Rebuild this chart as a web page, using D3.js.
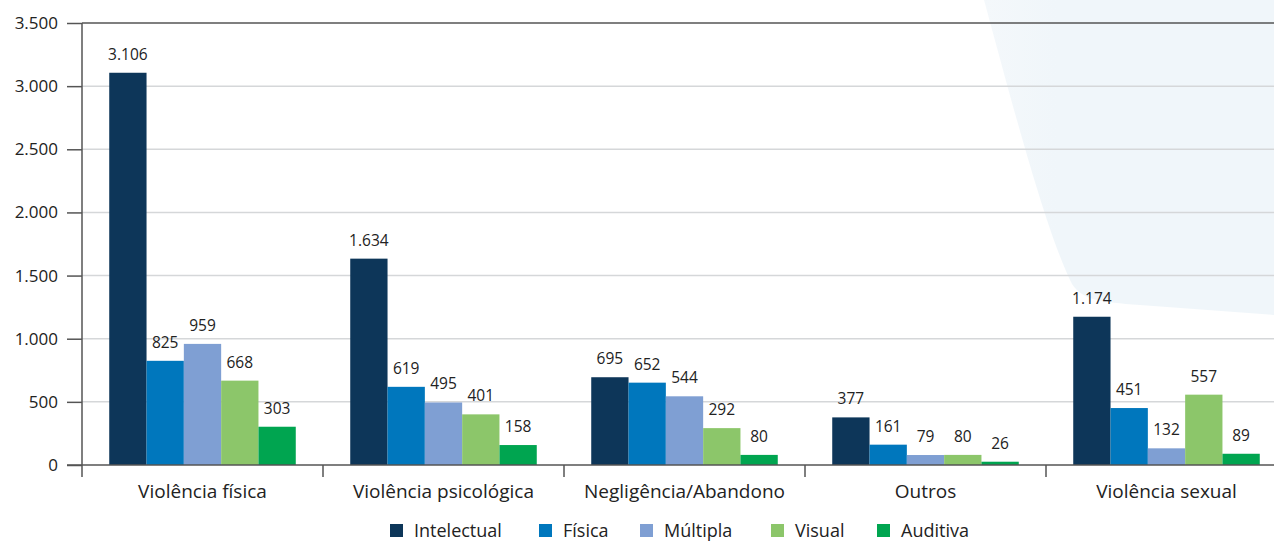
<!DOCTYPE html>
<html><head><meta charset="utf-8">
<script src="https://cdn.jsdelivr.net/npm/d3@7"></script>
<style>body{margin:0;background:#fff}svg{display:block}text{font-family:"Open Sans",sans-serif;fill:#222}</style>
</head><body><div id="chart"></div>
<script>
const categories = ["Violência física","Violência psicológica","Negligência/Abandono","Outros","Violência sexual"];
const seriesNames = ["Intelectual","Física","Múltipla","Visual","Auditiva"];
const intelectual = [3106,1634,695,377,1174];
const fisica = [825,619,652,161,451];
const multipla = [959,495,544,79,132];
const visual = [668,401,292,80,557];
const auditiva = [303,158,80,26,89];
const yTicks = [0,500,1000,1500,2000,2500,3000,3500];
const colors = ["#0d3659","#0077bd","#7f9fd3","#8cc66a","#00a550"];
const seriesValues = [intelectual,fisica,multipla,visual,auditiva];

(function(){
const W=1274,H=541;
const mLeft=82, mBottom=465, mTop=23, groupW=241;
const loc = d3.formatLocale({decimal:",",thousands:".",grouping:[3],currency:["R$",""]});
const fmt = loc.format(",d");

const svg=d3.select("#chart").append("svg").attr("width",W).attr("height",H);

// background decoration
const defs=svg.append("defs");
const g0=defs.append("linearGradient").attr("id","bg").attr("x1","0").attr("x2","1").attr("y1","0").attr("y2","0");
g0.append("stop").attr("offset","0").attr("stop-color","#f4f8fb");
g0.append("stop").attr("offset","0.25").attr("stop-color","#f0f6fa");
g0.append("stop").attr("offset","1").attr("stop-color","#f0f6fa");
const p=d3.path();
p.moveTo(984,0);
p.bezierCurveTo(1010,95,1045,230,1072,284);
p.bezierCurveTo(1082,300,1100,302,1140,305);
p.lineTo(1274,315);
p.lineTo(1274,0);
p.closePath();
svg.append("path").attr("d",p.toString()).attr("fill","url(#bg)");

const x=d3.scaleBand().domain(categories).range([mLeft,mLeft+groupW*categories.length]).paddingInner(0).paddingOuter(0);
const xs=d3.scaleBand().domain(seriesNames).range([0,x.bandwidth()]).paddingOuter(0.73).paddingInner(0);
const y=d3.scaleLinear().domain([0,3500]).range([mBottom,mTop]);

// gridlines
svg.append("g").selectAll("line").data(yTicks.filter(t=>t>0&&t<3500)).join("line")
 .attr("x1",mLeft).attr("x2",W).attr("y1",d=>y(d)).attr("y2",d=>y(d))
 .attr("stroke","#d5d7d9").attr("stroke-width",1.5);
svg.append("line").attr("x1",mLeft).attr("x2",W).attr("y1",y(3500)).attr("y2",y(3500)).attr("stroke","#555").attr("stroke-width",1.5);

// y axis
const ya=svg.append("g").attr("transform",`translate(${mLeft},0)`)
 .call(d3.axisLeft(y).tickValues(yTicks).tickFormat(fmt).tickSize(15).tickPadding(9));
ya.select(".domain").remove();
ya.selectAll(".tick line").attr("stroke","#555").attr("stroke-width",1.5);
ya.selectAll(".tick text").attr("font-size",17).attr("fill","#222").attr("font-family","Open Sans, sans-serif");
svg.append("line").attr("x1",mLeft).attr("x2",mLeft).attr("y1",mTop).attr("y2",mBottom+12).attr("stroke","#555").attr("stroke-width",1.5);

// bars
const groups=svg.append("g").selectAll("g").data(categories).join("g")
 .attr("transform",d=>`translate(${x(d)},0)`);
groups.each(function(cat,ci){
  const g=d3.select(this);
  const data=seriesNames.map((s,si)=>({s,si,v:seriesValues[si][ci]}));
  g.selectAll("rect").data(data).join("rect")
   .attr("x",d=>xs(d.s)).attr("width",xs.bandwidth())
   .attr("y",d=>y(d.v)).attr("height",d=>mBottom-y(d.v)).attr("fill",d=>colors[d.si]);
  g.selectAll("text").data(data).join("text")
   .attr("x",d=>xs(d.s)+xs.bandwidth()/2).attr("y",d=>y(d.v)-13)
   .attr("text-anchor","middle").attr("font-size",15.5).attr("fill","#333").text(d=>fmt(d.v));
});

// x axis
const xa=svg.append("g").attr("transform",`translate(0,${mBottom})`);
xa.append("line").attr("x1",67).attr("x2",W).attr("y1",0).attr("y2",0).attr("stroke","#555").attr("stroke-width",1.5);
xa.selectAll(".bt").data(categories.slice(1)).join("line").attr("class","bt")
 .attr("x1",d=>x(d)).attr("x2",d=>x(d)).attr("y1",0).attr("y2",12).attr("stroke","#555").attr("stroke-width",1.5);
xa.selectAll(".cl").data(categories).join("text").attr("class","cl")
 .attr("x",d=>x(d)+x.bandwidth()/2).attr("y",33).attr("text-anchor","middle").attr("font-size",19).attr("fill","#222").text(d=>d);

// legend
const legX=[390,539,640,771,877];
const leg=svg.append("g").selectAll("g").data(seriesNames).join("g").attr("transform",(d,i)=>`translate(${legX[i]},524)`);
leg.append("rect").attr("width",13).attr("height",13).attr("fill",(d,i)=>colors[i]);
leg.append("text").attr("x",24).attr("y",12.5).attr("font-size",18).attr("fill","#222").text(d=>d);
})();
</script></body></html>
